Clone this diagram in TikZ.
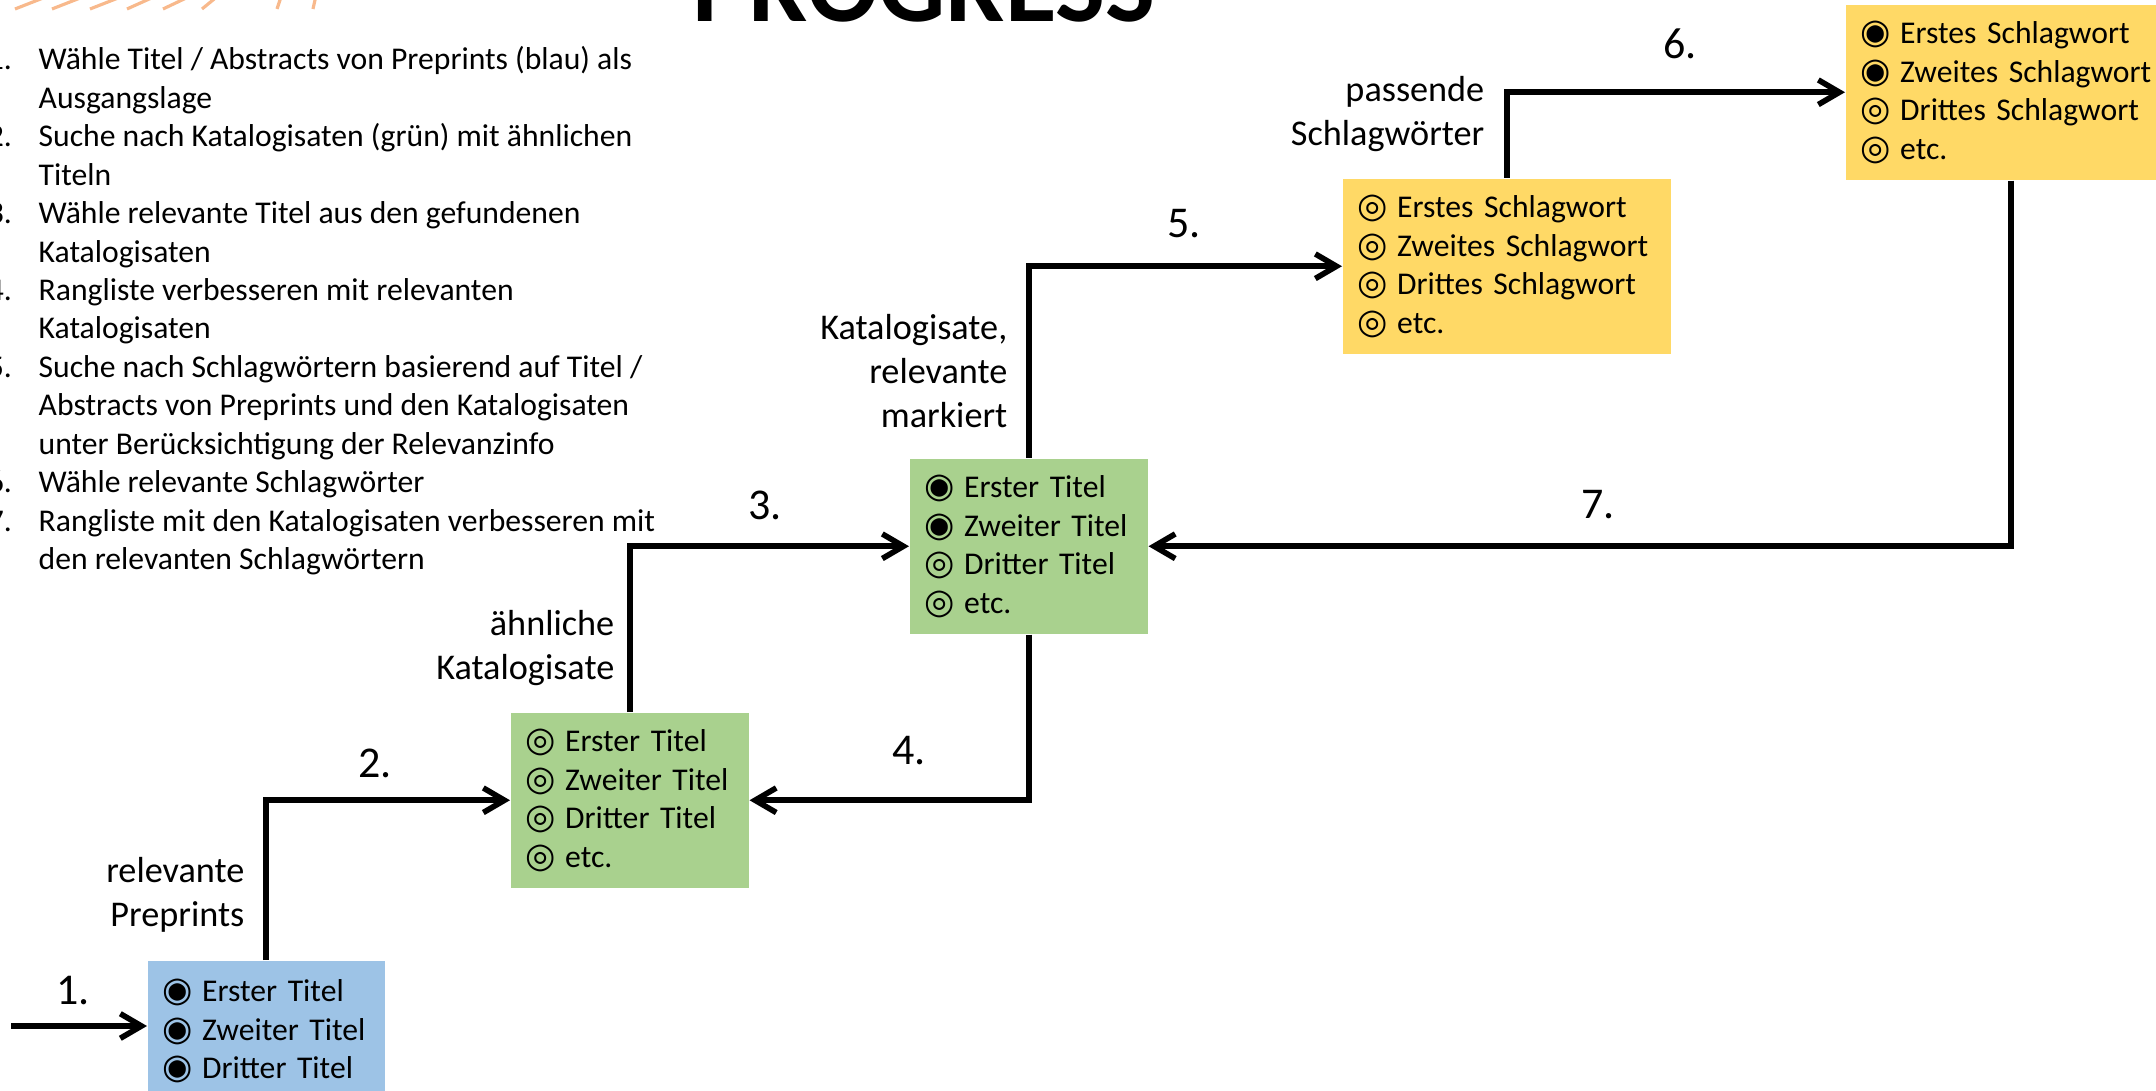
\documentclass[tikz,border=0pt]{standalone}
\usepackage{fontspec}
\setmainfont{Carlito}
\newfontfamily\symfont[Scale=1.1]{DejaVu Sans}
\usetikzlibrary{arrows.meta}

\definecolor{blau}{HTML}{9DC3E6}
\definecolor{gruen}{HTML}{A9D18E}
\definecolor{gelb}{HTML}{FFD966}
\definecolor{orangehell}{HTML}{F8B98C}

\newcommand{\selmark}{\hspace*{0.15cm}{\symfont ◉}\hspace{2.6pt}}
\newcommand{\openmark}{\hspace*{0.15cm}{\symfont ◎}\hspace{2.6pt}}

\begin{document}
\begin{tikzpicture}[x=0.01cm,y=-0.01cm,
    liste/.style={font=\fontsize{9}{10.93}\selectfont, align=left, inner sep=0pt},
    box/.style={anchor=north west, inner sep=0pt, minimum height=1.75cm,
        align=left, font=\fontsize{9}{10.95}\selectfont},
    lbl/.style={anchor=east, align=right, inner sep=0pt, font=\fontsize{10.3}{12.5}\selectfont},
    nr/.style={inner sep=0pt, font=\fontsize{12.5}{14}\selectfont},
    pfeil/.style={line width=1.6pt, -{Straight Barb[length=6pt,width=7pt]}},
    deko/.style={orangehell, line width=0.9pt, shorten >=-6pt}]
	\useasboundingbox (0,0) rectangle (2156,1091);

	% deco and title, cut off at the top
	\foreach \xa/\xb in {15/38, 52/75, 90/113, 127/147, 163/182, 202/213, 277/280, 313/315}
		\draw[deko] (\xa,9) -- (\xb,0);
	\node[font=\fontsize{30}{31}\selectfont\bfseries, anchor=base, inner sep=0pt] (titel) at (924,22) {PROGRESS};

	\node[liste, anchor=north west] (schritte) at (38,46) {%
		\llap{1.\hspace{7.6pt}}Wähle Titel / Abstracts von Preprints (blau) als\\
		Ausgangslage\\
		\llap{2.\hspace{7.6pt}}Suche nach Katalogisaten (grün) mit ähnlichen\\
		Titeln\\
		\llap{3.\hspace{7.6pt}}Wähle relevante Titel aus den gefundenen\\
		Katalogisaten\\
		\llap{4.\hspace{7.6pt}}Rangliste verbesseren mit relevanten\\
		Katalogisaten\\
		\llap{5.\hspace{7.6pt}}Suche nach Schlagwörtern basierend auf Titel /\\
		Abstracts von Preprints und den Katalogisaten\\
		unter Berücksichtigung der Relevanzinfo\\
		\llap{6.\hspace{7.6pt}}Wähle relevante Schlagwörter\\
		\llap{7.\hspace{7.6pt}}Rangliste mit den Katalogisaten verbesseren mit\\
		den relevanten Schlagwörtern};

	% boxes
	\node[box, fill=blau, text width=2.37cm] (pre) at (147,960)
		{\selmark Erster Titel\\ \selmark Zweiter Titel\\ \selmark Dritter Titel\\ \mbox{}};
	\node[box, fill=gruen, text width=2.38cm] (katA) at (510,712)
		{\openmark Erster Titel\\ \openmark Zweiter Titel\\ \openmark Dritter Titel\\ \openmark etc.};
	\node[box, fill=gruen, text width=2.38cm] (katB) at (909,458)
		{\selmark Erster Titel\\ \selmark Zweiter Titel\\ \openmark Dritter Titel\\ \openmark etc.};
	\node[box, fill=gelb, text width=3.28cm] (swA) at (1342,178)
		{\openmark Erstes Schlagwort\\ \openmark Zweites Schlagwort\\ \openmark Drittes Schlagwort\\ \openmark etc.};
	\node[box, fill=gelb, text width=3.30cm] (swB) at (1845,4)
		{\selmark Erstes Schlagwort\\ \selmark Zweites Schlagwort\\ \openmark Drittes Schlagwort\\ \openmark etc.};

	% labels
	\node[lbl] (lblPre) at (245,895) {relevante\\Preprints};
	\node[lbl] (lblAehn) at (615,648) {ähnliche\\Katalogisate};
	\node[lbl] (lblKat) at (1008,371) {Katalogisate,\\relevante\\markiert};
	\node[lbl] (lblSw) at (1485,114) {passende\\Schlagwörter};

	\node[nr] (n1) at (73,991) {1.};
	\node[nr] (n2) at (375,763) {2.};
	\node[nr] (n3) at (765,505) {3.};
	\node[nr] (n4) at (909,751) {4.};
	\node[nr] (n5) at (1184,224) {5.};
	\node[nr] (n6) at (1680,44) {6.};
	\node[nr] (n7) at (1598,505) {7.};

	% arrows
	\coordinate (start) at (11,1026);
	\draw[pfeil] (start) -- (start -| pre.west);
	\draw[pfeil] (pre.north) |- (katA.west);
	\draw[pfeil] (katA.north) |- (katB.west);
	\draw[pfeil] (katB.south) |- (katA.east);
	\draw[pfeil] (katB.north) |- (swA.west);
	\draw[pfeil] (swA.north) |- (swB.west);
	\draw[pfeil] (swB.south) |- (katB.east);

\end{tikzpicture}
\end{document}
